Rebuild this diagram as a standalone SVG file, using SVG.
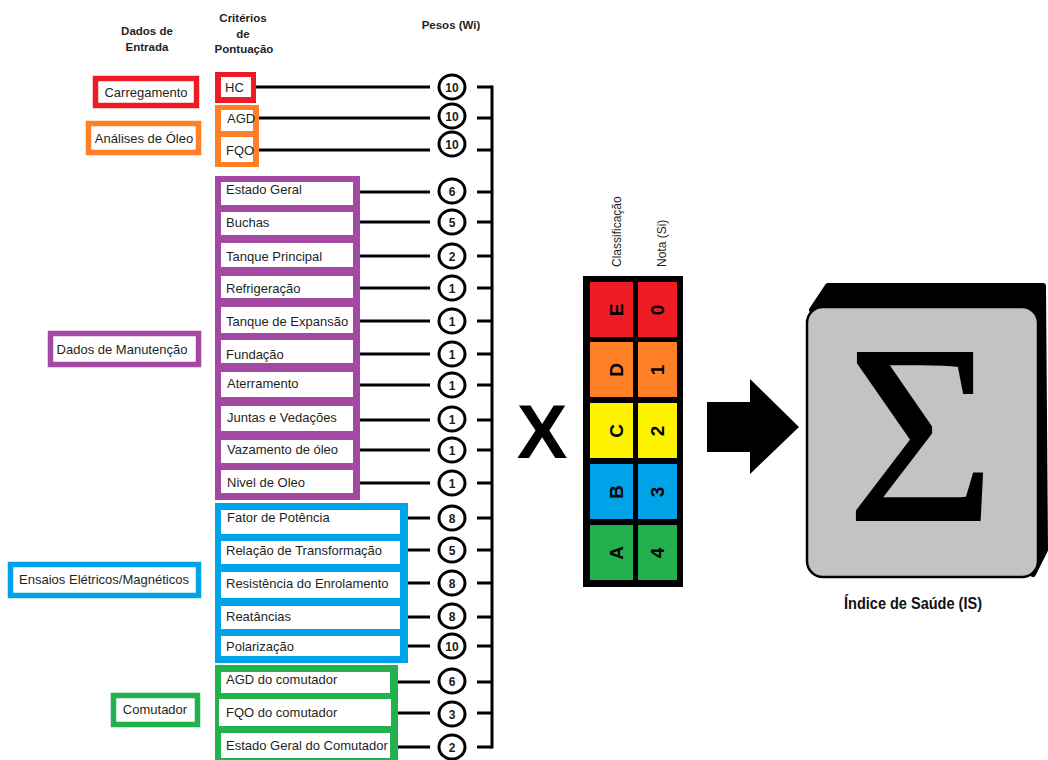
<svg xmlns="http://www.w3.org/2000/svg" width="1048" height="760" viewBox="0 0 1048 760">
  <defs>
    <style>
      .hdr { font-family: "Liberation Sans", Arial, sans-serif; font-weight: bold; font-size: 11.5px; fill: #1f1f1f; text-anchor: middle; }
      .lbl { font-family: "Liberation Sans", Arial, sans-serif; font-size: 13px; fill: #1f1f1f; }
      .grp { font-family: "Liberation Sans", Arial, sans-serif; font-size: 13px; fill: #1f1f1f; text-anchor: middle; }
      .box { fill: #ffffff; stroke-width: 5.5; }
      .inner { fill: #ffffff; }
      .wire { stroke: #000000; stroke-width: 3; fill: none; }
      .wt { fill: #ffffff; stroke: #000000; stroke-width: 3; }
      .wtn { font-family: "Liberation Sans", Arial, sans-serif; font-weight: bold; font-size: 12px; fill: #1a1a1a; text-anchor: middle; }
      .cell { font-family: "Liberation Sans", Arial, sans-serif; font-weight: bold; font-size: 19px; fill: #000000; text-anchor: middle; }
      .col { font-family: "Liberation Sans", Arial, sans-serif; font-size: 12px; fill: #1f1f1f; }
    </style>
  </defs>

  <rect width="1048" height="760" fill="#ffffff"/>

  <!-- column headings -->
  <g id="headings">
    <text class="hdr" x="147" y="35">Dados de</text>
    <text class="hdr" x="147" y="51">Entrada</text>
    <text class="hdr" x="243" y="22">Critérios</text>
    <text class="hdr" x="243" y="38">de</text>
    <text class="hdr" x="244" y="53">Pontuação</text>
    <text class="hdr" x="451" y="29">Pesos (Wi)</text>
  </g>

  <!-- input data groups -->
  <g id="in-carregamento">
    <rect class="box" x="95.5" y="78.5" width="101" height="27" stroke="#ed1c24"/>
    <text class="grp" x="146" y="96.5">Carregamento</text>
  </g>
  <g id="in-oleo">
    <rect class="box" x="88.5" y="123.5" width="110" height="29" stroke="#ff7f27"/>
    <text class="grp" x="144" y="142.5">Análises de Óleo</text>
  </g>
  <g id="in-manutencao">
    <rect class="box" x="50.5" y="333.5" width="148" height="31" stroke="#a349a4"/>
    <text class="grp" x="122" y="354">Dados de Manutenção</text>
  </g>
  <g id="in-ensaios">
    <rect class="box" x="10.5" y="564.5" width="188" height="31" stroke="#00a2e8"/>
    <text class="grp" x="104" y="583.5">Ensaios Elétricos/Magnéticos</text>
  </g>
  <g id="in-comutador">
    <rect class="box" x="113.5" y="695.5" width="84" height="29" stroke="#22b14c"/>
    <text class="grp" x="155" y="713.5">Comutador</text>
  </g>

  <!-- scoring criteria -->
  <g id="crit-carregamento">
    <rect x="215" y="72" width="41" height="31" fill="#ed1c24"/>
    <rect class="inner" x="221" y="77" width="30" height="20"/>
    <text class="lbl" x="225" y="92">HC</text>
  </g>
  <g id="crit-oleo">
    <rect x="215" y="105" width="44" height="62" fill="#ff7f27"/>
    <rect class="inner" x="221" y="110" width="32" height="21"/>
    <rect class="inner" x="221" y="137" width="32" height="25"/>
    <text class="lbl" x="227" y="123">AGD</text>
    <text class="lbl" x="226" y="155">FQO</text>
  </g>
  <g id="crit-manutencao">
    <rect x="215" y="176" width="145" height="324" fill="#a349a4"/>
    <rect class="inner" x="221" y="182" width="132" height="23"/>
    <rect class="inner" x="221" y="212" width="132" height="23"/>
    <rect class="inner" x="221" y="243" width="132" height="24"/>
    <rect class="inner" x="221" y="276" width="132" height="22"/>
    <rect class="inner" x="221" y="307" width="132" height="26"/>
    <rect class="inner" x="221" y="340" width="132" height="23"/>
    <rect class="inner" x="221" y="372" width="132" height="25"/>
    <rect class="inner" x="221" y="406" width="132" height="25"/>
    <rect class="inner" x="221" y="440" width="132" height="23"/>
    <rect class="inner" x="221" y="470" width="132" height="23"/>
    <text class="lbl" x="226" y="193.5">Estado Geral</text>
    <text class="lbl" x="226" y="226.5">Buchas</text>
    <text class="lbl" x="226" y="260.5">Tanque Principal</text>
    <text class="lbl" x="226" y="292.5">Refrigeração</text>
    <text class="lbl" x="226" y="325.5">Tanque de Expansão</text>
    <text class="lbl" x="226" y="358.5">Fundação</text>
    <text class="lbl" x="227" y="387.5">Aterramento</text>
    <text class="lbl" x="227" y="421.5">Juntas e Vedações</text>
    <text class="lbl" x="227" y="453.5">Vazamento de óleo</text>
    <text class="lbl" x="227" y="486.5">Nivel de Oleo</text>
  </g>
  <g id="crit-ensaios">
    <rect x="215" y="503" width="193" height="160" fill="#00a2e8"/>
    <rect class="inner" x="221" y="510" width="179" height="24"/>
    <rect class="inner" x="221" y="541" width="179" height="23"/>
    <rect class="inner" x="221" y="572" width="179" height="26"/>
    <rect class="inner" x="221" y="606" width="179" height="23"/>
    <rect class="inner" x="221" y="636" width="179" height="20"/>
    <text class="lbl" x="227" y="521.5">Fator de Potência</text>
    <text class="lbl" x="226" y="554.5">Relação de Transformação</text>
    <text class="lbl" x="226" y="587.5">Resistência do Enrolamento</text>
    <text class="lbl" x="226" y="620.5">Reatâncias</text>
    <text class="lbl" x="226" y="650.5">Polarização</text>
  </g>
  <g id="crit-comutador">
    <rect x="215" y="665" width="183" height="100" fill="#22b14c"/>
    <rect class="inner" x="221" y="672" width="169" height="21"/>
    <rect class="inner" x="219" y="699" width="172" height="27"/>
    <rect class="inner" x="221" y="733" width="169" height="25"/>
    <text class="lbl" x="226" y="683.5">AGD do comutador</text>
    <text class="lbl" x="226" y="716.5">FQO do comutador</text>
    <text class="lbl" x="226" y="749.5">Estado Geral do Comutador</text>
  </g>

  <!-- connectors: criterion to weight to the summing bus -->
  <g id="connectors" class="wire">
    <path d="M256 87H430M477 87H492"/>
    <path d="M259 118H430M477 118H492"/>
    <path d="M259 150H430M477 150H492"/>
    <path d="M360 192H430M477 192H492"/>
    <path d="M360 222H430M477 222H492"/>
    <path d="M360 256H430M477 256H492"/>
    <path d="M360 288H430M477 288H492"/>
    <path d="M360 321H430M477 321H492"/>
    <path d="M360 354H430M477 354H492"/>
    <path d="M360 385H430M477 385H492"/>
    <path d="M360 420H430M477 420H492"/>
    <path d="M360 450H430M477 450H492"/>
    <path d="M360 483H430M477 483H492"/>
    <path d="M408 518H430M477 518H492"/>
    <path d="M408 550H430M477 550H492"/>
    <path d="M408 583H430M477 583H492"/>
    <path d="M408 617H430M477 617H492"/>
    <path d="M408 646H430M477 646H492"/>
    <path d="M398 682H430M477 682H492"/>
    <path d="M398 713H430M477 713H492"/>
    <path d="M398 747H430M477 747H492"/>
    <path d="M492 85.5V748.5"/>
  </g>

  <!-- weights -->
  <g id="weights">
    <ellipse class="wt" cx="452" cy="87" rx="13" ry="12"/><text class="wtn" x="452" y="91.5">10</text>
    <ellipse class="wt" cx="452" cy="116" rx="13" ry="12"/><text class="wtn" x="452" y="120.5">10</text>
    <ellipse class="wt" cx="452" cy="144" rx="13" ry="12"/><text class="wtn" x="452" y="148.5">10</text>
    <ellipse class="wt" cx="452" cy="191" rx="13" ry="12"/><text class="wtn" x="452" y="195.5">6</text>
    <ellipse class="wt" cx="452" cy="222" rx="13" ry="12"/><text class="wtn" x="452" y="226.5">5</text>
    <ellipse class="wt" cx="452" cy="256" rx="13" ry="12"/><text class="wtn" x="452" y="260.5">2</text>
    <ellipse class="wt" cx="452" cy="288" rx="13" ry="12"/><text class="wtn" x="452" y="292.5">1</text>
    <ellipse class="wt" cx="452" cy="321" rx="13" ry="12"/><text class="wtn" x="452" y="325.5">1</text>
    <ellipse class="wt" cx="452" cy="354" rx="13" ry="12"/><text class="wtn" x="452" y="358.5">1</text>
    <ellipse class="wt" cx="452" cy="385" rx="13" ry="12"/><text class="wtn" x="452" y="389.5">1</text>
    <ellipse class="wt" cx="452" cy="419" rx="13" ry="12"/><text class="wtn" x="452" y="423.5">1</text>
    <ellipse class="wt" cx="452" cy="450" rx="13" ry="12"/><text class="wtn" x="452" y="454.5">1</text>
    <ellipse class="wt" cx="452" cy="483" rx="13" ry="12"/><text class="wtn" x="452" y="487.5">1</text>
    <ellipse class="wt" cx="452" cy="518" rx="13" ry="12"/><text class="wtn" x="452" y="522.5">8</text>
    <ellipse class="wt" cx="452" cy="550" rx="13" ry="12"/><text class="wtn" x="452" y="554.5">5</text>
    <ellipse class="wt" cx="452" cy="583" rx="13" ry="12"/><text class="wtn" x="452" y="587.5">8</text>
    <ellipse class="wt" cx="452" cy="616" rx="13" ry="12"/><text class="wtn" x="452" y="620.5">8</text>
    <ellipse class="wt" cx="452" cy="646" rx="13" ry="12"/><text class="wtn" x="452" y="650.5">10</text>
    <ellipse class="wt" cx="452" cy="681" rx="13" ry="12"/><text class="wtn" x="452" y="685.5">6</text>
    <ellipse class="wt" cx="452" cy="714" rx="13" ry="12"/><text class="wtn" x="452" y="718.5">3</text>
    <ellipse class="wt" cx="452" cy="747" rx="13" ry="12"/><text class="wtn" x="452" y="751.5">2</text>
  </g>

  <!-- multiplication sign -->
  <g id="times">
    <text x="542" y="458" font-family="Liberation Sans, Arial, sans-serif" font-weight="bold" font-size="76" text-anchor="middle" fill="#000000">X</text>
  </g>

  <!-- rating table -->
  <g id="rating-table">
    <text class="col" transform="translate(621 267) rotate(-90)">Classificação</text>
    <text class="col" transform="translate(666 267) rotate(-90)">Nota (Si)</text>
    <rect x="583" y="276" width="100" height="311" fill="#000000"/>
    <rect x="590" y="282" width="43" height="55" fill="#ed1c24"/>
    <rect x="638" y="282" width="39" height="55" fill="#ed1c24"/>
    <rect x="590" y="342" width="43" height="55" fill="#ff7f27"/>
    <rect x="638" y="342" width="39" height="55" fill="#ff7f27"/>
    <rect x="590" y="403" width="43" height="55" fill="#fff200"/>
    <rect x="638" y="403" width="39" height="55" fill="#fff200"/>
    <rect x="590" y="464" width="43" height="55" fill="#00a2e8"/>
    <rect x="638" y="464" width="39" height="55" fill="#00a2e8"/>
    <rect x="590" y="525" width="43" height="55" fill="#22b14c"/>
    <rect x="638" y="525" width="39" height="55" fill="#22b14c"/>
    <text class="cell" transform="translate(623 310) rotate(-90)">E</text>
    <text class="cell" transform="translate(664 310) rotate(-90)">0</text>
    <text class="cell" transform="translate(623 370) rotate(-90)">D</text>
    <text class="cell" transform="translate(664 370) rotate(-90)">1</text>
    <text class="cell" transform="translate(623 431) rotate(-90)">C</text>
    <text class="cell" transform="translate(664 431) rotate(-90)">2</text>
    <text class="cell" transform="translate(623 492) rotate(-90)">B</text>
    <text class="cell" transform="translate(664 492) rotate(-90)">3</text>
    <text class="cell" transform="translate(623 553) rotate(-90)">A</text>
    <text class="cell" transform="translate(664 553) rotate(-90)">4</text>
  </g>

  <!-- block arrow -->
  <g id="arrow">
    <polygon points="707,402 750,402 750,379 799,427 750,474 750,452 707,452" fill="#000000"/>
  </g>

  <!-- summation block -->
  <g id="health-index">
    <path d="M812 310 L828 286 L1043 286 L1045 550 L1033 574 Z" fill="#000000" stroke="#000000" stroke-width="6" stroke-linejoin="round"/>
    <rect x="807" y="307" width="231" height="270" rx="16" ry="16" fill="#c3c3c3" stroke="#000000" stroke-width="2.5"/>
    <text x="921" y="520" font-family="Liberation Serif, Times New Roman, serif" font-size="254" text-anchor="middle" fill="#000000" stroke="#000000" stroke-width="2">Σ</text>
    <text x="913" y="609" font-family="Liberation Sans, Arial, sans-serif" font-weight="bold" font-size="17" text-anchor="middle" textLength="138" lengthAdjust="spacingAndGlyphs" fill="#111111">Índice de Saúde (IS)</text>
  </g>
</svg>
